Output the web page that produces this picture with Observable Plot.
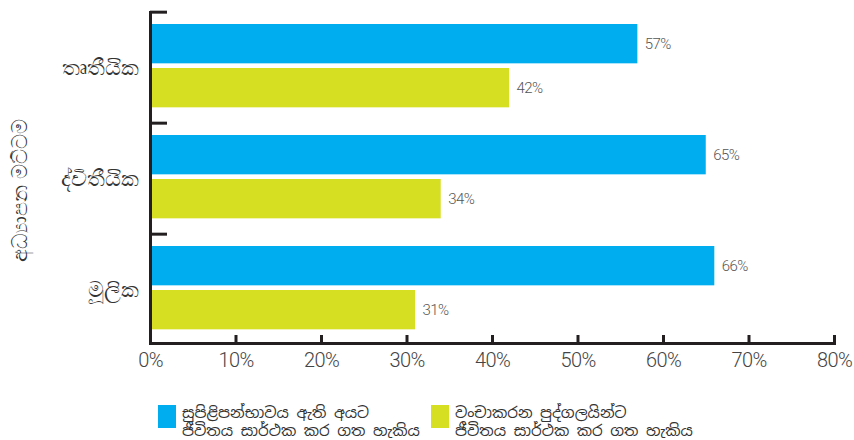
<!DOCTYPE html>
<html><head><meta charset="utf-8">
<script src="https://cdn.jsdelivr.net/npm/d3@7"></script>
<script src="https://cdn.jsdelivr.net/npm/@observablehq/plot@0.6"></script>
<style>
body{margin:0;background:#fff;}
#wrap{position:relative;width:854px;height:440px;overflow:hidden;font-family:"Noto Sans Sinhala","Noto Sans","DejaVu Sans",sans-serif;}
#wrap svg{position:absolute;left:0;top:0;}
#wrap svg text.num{font-weight:300;letter-spacing:-0.6px;}
.leg{position:absolute;top:404px;display:flex;align-items:flex-start;}
.sw{width:18px;height:23px;margin-top:1px;margin-right:6px;}
.lt{font-size:15.2px;line-height:18px;color:#333;white-space:nowrap;}
</style></head><body><div id="wrap"></div>
<script>
const levels = ["තෘතීයික", "ද්විතීයික", "මූලික"];
const seriesLine1 = ["සුපිළිපන්භාවය ඇති අයට", "වංචාකරන පුද්ගලයින්ට"];
const seriesLine2 = ["ජීවිතය සාර්ථක කර ගත හැකිය", "ජීවිතය සාර්ථක කර ගත හැකිය"];
const honestValues = [57, 65, 66];
const deceitValues = [42, 34, 31];
const xTicks = [0, 10, 20, 30, 40, 50, 60, 70, 80];
const yTitle = "අධ්‍යාපන මට්ටම";
const colors = ["#00AEEF", "#D7DF23"];

const honest = levels.map((l, i) => ({level: l, value: honestValues[i]}));
const deceit = levels.map((l, i) => ({level: l, value: deceitValues[i]}));

const num = '"Roboto","Liberation Sans Narrow",sans-serif';
const ink = "#231F20";
const bw = (346 - 11) / 3;

const chart = Plot.plot({
  width: 854, height: 390,
  marginLeft: 150, marginRight: 20, marginTop: 11, marginBottom: 47,
  style: {background: "#fff", overflow: "visible"},
  x: {domain: [0, 80]},
  y: {type: "band", domain: levels, range: [11, 346], padding: 0},
  marks: [
    Plot.barX(honest, {y: "level", x: "value", fill: colors[0], insetTop: 12, insetBottom: bw - 52}),
    Plot.barX(deceit, {y: "level", x: "value", fill: colors[1], insetTop: 56, insetBottom: bw - 96}),
    Plot.text(honest, {y: "level", x: "value", text: d => d.value + "%", textAnchor: "start", dx: 7, dy: 32 - bw / 2, fontSize: 15, fontFamily: num, fill: "#555", className: "num"}),
    Plot.text(deceit, {y: "level", x: "value", text: d => d.value + "%", textAnchor: "start", dx: 7, dy: 76 - bw / 2, fontSize: 15, fontFamily: num, fill: "#555", className: "num"}),
    Plot.axisY({tickSize: 0, tickPadding: 12, fontSize: 22, fill: "#333", label: null}),
    Plot.axisY({text: null, tickSize: -17, dy: -bw / 2, stroke: ink, strokeWidth: 3, label: null}),
    Plot.axisX({ticks: xTicks, text: null, tickSize: -8, stroke: ink, strokeWidth: 3, label: null}),
    Plot.axisX({ticks: xTicks, tickSize: 0, tickPadding: 9, tickFormat: d => d + "%", fontSize: 20, fontFamily: num, fill: "#444", label: null, className: "num"}),
    Plot.ruleX([0], {stroke: ink, strokeWidth: 3}),
    Plot.frame({anchor: "bottom", stroke: ink, strokeWidth: 3}),
    Plot.text([yTitle], {text: d => d, frameAnchor: "left", rotate: -90, dx: -130, dy: 13, fontSize: 21, fill: "#333", textAnchor: "middle", lineAnchor: "middle"})
  ]
});
const wrap = document.getElementById("wrap");
wrap.appendChild(chart);
chart.querySelectorAll("g.num text").forEach(t => t.classList.add("num"));
const legLeft = [158, 431];
seriesLine1.forEach((t, i) => {
  const d = document.createElement("div");
  d.className = "leg";
  d.style.left = legLeft[i] + "px";
  d.innerHTML = `<div class="sw" style="background:${colors[i]}"></div><div class="lt">${t}<br>${seriesLine2[i]}</div>`;
  wrap.appendChild(d);
});
</script></body></html>
